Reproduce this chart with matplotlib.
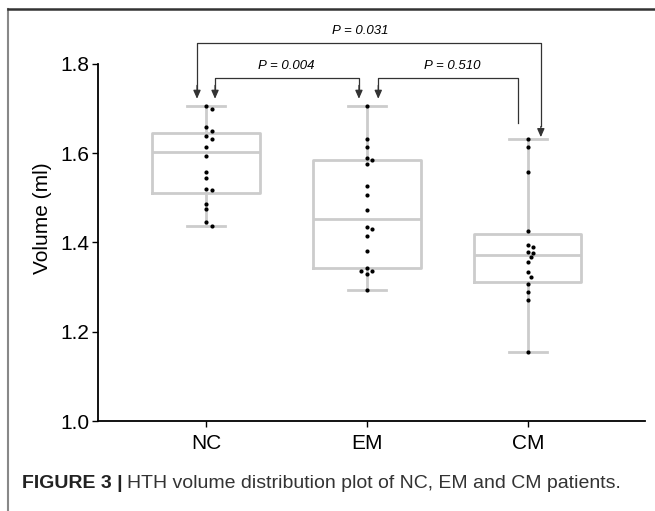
import numpy as np
import matplotlib
matplotlib.use("Agg")
import matplotlib.pyplot as plt
from matplotlib.lines import Line2D

plt.rcParams['font.family'] = ['Liberation Sans', 'DejaVu Sans']

groups = ['NC', 'EM', 'CM']

# individual volumes (ml)
nc_vals = [1.706, 1.700, 1.658, 1.650, 1.639, 1.631, 1.615, 1.594, 1.557,
           1.545, 1.519, 1.517, 1.486, 1.474, 1.446, 1.437]
em_vals = [1.706, 1.632, 1.615, 1.589, 1.585, 1.576, 1.527, 1.506, 1.473,
           1.435, 1.430, 1.414, 1.381, 1.342, 1.337, 1.336, 1.329, 1.293]
cm_vals = [1.633, 1.613, 1.559, 1.426, 1.394, 1.390, 1.378, 1.377, 1.367,
           1.357, 1.333, 1.322, 1.308, 1.288, 1.271, 1.155]

# box summary as drawn (min, q1, median, q3, max)
box_min = [1.437, 1.293, 1.155]
box_q1 = [1.511, 1.342, 1.312]
box_med = [1.603, 1.452, 1.371]
box_q3 = [1.646, 1.585, 1.418]
box_max = [1.706, 1.706, 1.633]

p_labels = ['P = 0.031', 'P = 0.004', 'P = 0.510']


def swarm_offsets(vals, px_x, px_y, diam=5.0):
    # simple beeswarm in pixel space
    order = np.argsort(vals)[::-1]
    placed = []
    offs = np.zeros(len(vals))
    for i in order:
        y = vals[i] * px_y
        for k in range(0, 20):
            cand = [0.0] if k == 0 else [k * diam * 0.55, -k * diam * 0.55]
            ok_x = None
            for cx in cand:
                if all((cx - px) ** 2 + (y - py) ** 2 >= diam ** 2 for px, py in placed):
                    ok_x = cx
                    break
            if ok_x is not None:
                placed.append((ok_x, y))
                offs[i] = ok_x / px_x
                break
    return offs


fig = plt.figure(figsize=(6.55, 5.11), dpi=100)
ax = fig.add_axes([98 / 655, 1 - 421 / 511, (645 - 98) / 655, (421 - 15) / 511])
ax.set_xlim(-0.671, 2.727)
ax.set_ylim(1.0, 1.8 + 49 / 446.4)

stats = []
for i, g in enumerate(groups):
    stats.append(dict(label=g, whislo=box_min[i], q1=box_q1[i], med=box_med[i],
                      q3=box_q3[i], whishi=box_max[i], fliers=[]))
gray = '#cccccc'
ax.bxp(stats, positions=[0, 1, 2], widths=0.665, showfliers=False,
       boxprops=dict(color=gray, linewidth=2.0),
       whiskerprops=dict(color=gray, linewidth=2.0),
       capprops=dict(color=gray, linewidth=2.0),
       medianprops=dict(color=gray, linewidth=2.0),
       capwidths=0.24, manage_ticks=False)

px_x = 161.0
px_y = 446.4
for i, vals in enumerate([nc_vals, em_vals, cm_vals]):
    vals = np.array(vals)
    offs = swarm_offsets(vals, px_x, px_y)
    ax.scatter(i + offs, vals, s=9, color='black', zorder=3, linewidths=0)

# significance brackets
lc = '#333333'
ytop = 1.848
ylow = 1.769
tip = 1.722


def arrow_down(x, y0, y1):
    ax.annotate('', xy=(x, y1), xytext=(x, y0),
                arrowprops=dict(arrowstyle='-|>,head_length=0.5,head_width=0.22',
                                color=lc, lw=0.9, shrinkA=0, shrinkB=0))


ax.plot([-0.056, -0.056, 2.08, 2.08], [tip + 0.02, ytop, ytop, 1.66], color=lc, lw=0.9)
arrow_down(-0.056, tip + 0.03, tip)
arrow_down(2.08, 1.66, 1.636)
ax.text(0.96, ytop + 0.012, p_labels[0], ha='center', va='bottom', fontsize=9.5, style='italic')

ax.plot([0.056, 0.056, 0.95, 0.95], [tip + 0.02, ylow, ylow, tip + 0.02], color=lc, lw=0.9)
arrow_down(0.056, tip + 0.03, tip)
arrow_down(0.95, tip + 0.03, tip)
ax.text(0.5, ylow + 0.012, p_labels[1], ha='center', va='bottom', fontsize=9.5, style='italic')

ax.plot([1.07, 1.07, 1.94, 1.94], [tip + 0.02, ylow, ylow, 1.668], color=lc, lw=0.9)
arrow_down(1.07, tip + 0.03, tip)
ax.text(1.53, ylow + 0.012, p_labels[2], ha='center', va='bottom', fontsize=9.5, style='italic')

for s in ['top', 'right']:
    ax.spines[s].set_visible(False)
ax.spines['left'].set_bounds(1.0, 1.8)
ax.spines['left'].set_linewidth(1.3)
ax.spines['bottom'].set_linewidth(1.3)
ax.set_yticks([1.0, 1.2, 1.4, 1.6, 1.8])
ax.set_yticklabels(['1.0', '1.2', '1.4', '1.6', '1.8'])
ax.set_xticks([0, 1, 2])
ax.set_xticklabels(groups)
ax.tick_params(axis='both', labelsize=15, length=4, width=1.0, pad=2)
ax.tick_params(axis='x', pad=5)
ax.set_ylabel('Volume (ml)', fontsize=15, labelpad=6)

# page frame and caption
fig.add_artist(Line2D([8 / 655, 8 / 655], [0, 1 - 9 / 511], color='#888888', lw=1.5))
fig.add_artist(Line2D([8 / 655, 1], [1 - 9 / 511, 1 - 9 / 511], color='#333333', lw=1.8))

t1 = fig.text(22 / 655, 1 - 483 / 511, 'FIGURE 3 |', fontsize=14, fontweight='bold',
              color='#222222', va='center')
fig.canvas.draw()
bb = t1.get_window_extent()
fig.text((bb.x1 + 4) / 655, 1 - 483 / 511,
         'HTH volume distribution plot of NC, EM and CM patients.',
         fontsize=14, color='#333333', va='center')

fig.savefig('out.png', dpi=100)
